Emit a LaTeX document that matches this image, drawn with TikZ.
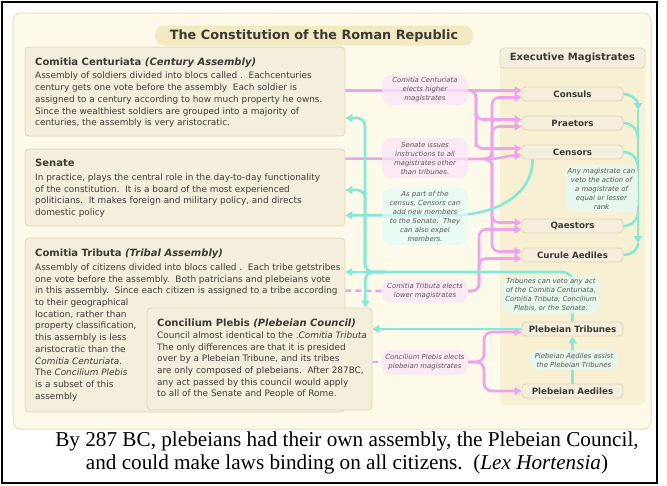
\documentclass[tikz,border=0pt]{standalone}
\usepackage{fontspec}
\setmainfont{Liberation Serif}
\newfontfamily\dvs{DejaVu Sans}
\usetikzlibrary{arrows.meta,positioning,calc}

\definecolor{cream}{HTML}{FDFAEA}
\definecolor{creamline}{HTML}{EAE0BE}
\definecolor{boxfill}{HTML}{F4EFDD}
\definecolor{boxline}{HTML}{E2D8B6}
\definecolor{pillfill}{HTML}{F3EAC2}
\definecolor{panelfill}{HTML}{F8F0D2}
\definecolor{electc}{HTML}{EFA2F0}
\definecolor{vetoc}{HTML}{86E8D8}
\definecolor{electbg}{HTML}{FBE4FB}
\definecolor{vetobg}{HTML}{E2FAF5}
\definecolor{ink}{HTML}{3C3A36}

\pgfdeclarelayer{back}
\pgfdeclarelayer{lines}
\pgfsetlayers{back,lines,main}

\tikzset{
x=1pt, y=-1pt, % pixel grid, y runs downwards
panelbox/.style={draw=boxline, fill=boxfill, rounded corners=4pt, line width=0.8pt},
pill/.style={fill=pillfill, rounded corners=9pt, minimum width=318pt, minimum height=20pt, text=ink, font=\dvs\bfseries\fontsize{12.8}{14}\selectfont},
magbox/.style={panelbox, minimum width=101pt, minimum height=14pt, inner sep=0pt, text=ink, font=\dvs\bfseries\fontsize{8.7}{10}\selectfont},
heading/.style={anchor=base west, inner sep=0pt, text=ink, font=\dvs\bfseries\fontsize{10}{12}\selectfont},
bodytext/.style={anchor=north west, inner sep=0pt, align=left, text=ink, font=\dvs\fontsize{8.9}{11.7}\selectfont},
note/.style={rounded corners=9pt, inner sep=2pt, align=center, text=ink!85, font=\dvs\itshape\fontsize{6.9}{9}\selectfont, fill opacity=0.75, text opacity=1},
electnote/.style={note, fill=electbg},
vetonote/.style={note, fill=vetobg},
elect line/.style={draw=electc, line width=2.6pt, -{Triangle[length=7pt,width=8pt]}},
veto line/.style={draw=vetoc, line width=2.6pt, -{Triangle[length=7pt,width=8pt]}},
dashes/.style={dash pattern=on 6pt off 4pt}
}

\begin{document}
\begin{tikzpicture}
\useasboundingbox (0,0) rectangle (667,485);
\draw[line width=2pt] (2,2) rectangle (657,483);
\begin{pgfonlayer}{back}
\draw[fill=cream, draw=creamline, line width=1pt, rounded corners=8pt] (13,13) rectangle (651,429);
\fill[panelfill, rounded corners=4pt] (500,62) rectangle (645,405);
\end{pgfonlayer}

% title
\node[pill] (title) at (314,35.5) {The Constitution of the Roman Republic};

% assemblies and the senate
\node[panelbox, minimum width=320pt, minimum height=89pt] (cc) at (185,91.5) {};
\node[heading] (cchead) at (35,65.5) {Comitia Centuriata \textit{(Century Assembly)}};
\node[bodytext] (cctext) at (35,72) {Assembly of soldiers divided into blocs called .\ \ Eachcenturies\\
century gets one vote before the assembly\ \ Each soldier is\\
assigned to a century according to how much property he owns.\\
Since the wealthiest soldiers are grouped into a majority of\\
centuries, the assembly is very aristocratic.};

\node[panelbox, minimum width=320pt, minimum height=77pt] (sen) at (185,187.5) {};
\node[heading] (senhead) at (35,166.5) {Senate};
\node[bodytext] (sentext) at (35,173.5) {In practice, plays the central role in the day-to-day functionality\\
of the constitution.\ \ It is a board of the most experienced\\
politicians.\ \ It makes foreign and military policy, and directs\\
domestic policy};

\node[panelbox, minimum width=320pt, minimum height=174pt] (ct) at (185,325) {};
\node[heading] (cthead) at (35,256.5) {Comitia Tributa \textit{(Tribal Assembly)}};
\node[bodytext] (cttext) at (35,263.5) {Assembly of citizens divided into blocs called .\ \ Each tribe getstribes\\
one vote before the assembly.\ \ Both patricians and plebeians vote\\
in this assembly.\ \ Since each citizen is assigned to a tribe according\\
to their geographical\\
location, rather than\\
property classification,\\
this assembly is less\\
aristocratic than the\\
\textit{Comitia Centuriata}.\\
The \textit{Concilium Plebis}\\
is a subset of this\\
assembly};

\node[panelbox, minimum width=225pt, minimum height=102pt] (cp) at (259.5,359) {};
\node[heading] (cphead) at (157,326.5) {Concilium Plebis \textit{(Plebeian Council)}};
\node[bodytext] (cptext) at (157,331.5) {Council almost identical to the .\textit{Comitia Tributa}\\
The only differences are that it is presided\\
over by a Plebeian Tribune, and its tribes\\
are only composed of plebeians.\ \ After 287BC,\\
any act passed by this council would apply\\
to all of the Senate and People of Rome.};

% executive magistrates
\node[panelbox, minimum width=145pt, minimum height=20pt, text=ink, font=\dvs\bfseries\fontsize{10}{12}\selectfont] (exec) at (572.5,58) {Executive Magistrates};
\node[magbox] (consuls) at (572.5,94) {Consuls};
\node[magbox] (praetors) at (572.5,123) {Praetors};
\node[magbox] (censors) at (572.5,152) {Censors};
\node[magbox] (qaestors) at (572.5,226) {Qaestors};
\node[magbox] (curule) at (572.5,255) {Curule Aediles};
\node[magbox] (ptrib) at (572.5,329) {Plebeian Tribunes};
\node[magbox] (paed) at (572.5,391) {Plebeian Aediles};

% notes on the arrows
\node[electnote, minimum width=86pt, minimum height=30pt] (cclab) at (425,90) {Comitia Centuriata\\elects higher\\magistrates};
\node[electnote, minimum width=86pt, minimum height=40pt] (senlab) at (425,158) {Senate issues\\instructions to all\\magistrates other\\than tribunes.};
\node[vetonote, minimum width=86pt, minimum height=57pt] (censlab) at (425,216.5) {As part of the\\census, Censors can\\add new members\\to the Senate.\ \ They\\can also expel\\members.};
\node[electnote, minimum width=86pt, minimum height=23pt] (ctlab) at (425,291) {Comitia Tributa elects\\lower magistrates};
\node[electnote, minimum width=86pt, minimum height=25pt] (cplab) at (425,362) {Concilium Plebis elects\\plebeian magistrates};
\node[vetonote, minimum width=73pt, minimum height=47pt] (vetolab) at (601.5,188.5) {Any magistrate can\\veto the action of\\a magistrate of\\equal or lesser\\rank};
\node[vetonote, minimum width=98pt, minimum height=36pt] (triblab) at (551,295) {Tribunes can veto any act\\of the Comitia Centuriata,\\Comitia Tributa, Concilium\\Plebis, or the Senate.};
\node[vetonote, minimum width=88pt, minimum height=20pt] (aedlab) at (574,360) {Plebeian Aediles assist\\the Plebeian Tribunes};

% caption
\node[align=center, font=\fontsize{21.2}{22.5}\selectfont] (caption) at (347,453) {By 287 BC, plebeians had their own assembly, the Plebeian Council,\\and could make laws binding on all citizens.\ \ (\textit{Lex Hortensia})};

\begin{pgfonlayer}{lines}
% elections (magenta)
\coordinate (ccj) at (462,90.5);
\draw[elect line] ($(cc.east)+(0,-1)$) -- ($(consuls.west)+(0,-3.5)$);
\draw[elect line, rounded corners=7pt] (ccj) -| (476,110) |- ($(praetors.west)+(0,-3.5)$);
\draw[elect line, rounded corners=7pt] (ccj) -| (476,140) |- ($(censors.west)+(0,-3.5)$);
\coordinate (senj) at (486,159);
\draw[elect line] ($(sen.north east)+(0,10)$) -- (senj) to[out=0,in=180] ($(censors.west)+(0,3.5)$);
\draw[elect line, rounded corners=7pt] (senj) -| (492,150) |- ($(consuls.west)+(0,3.5)$);
\draw[elect line, rounded corners=7pt] (senj) -| (492,150) |- ($(praetors.west)+(0,3.5)$);
\draw[elect line, rounded corners=7pt] (senj) -| (492,170) |- ($(qaestors.west)+(0,-3.5)$);
\draw[elect line, rounded corners=7pt] (senj) -| (492,170) |- ($(curule.west)+(0,-3.5)$);
\draw[elect line, -, dashes] ($(ct.north east)+(0,53)$) -- (ctlab.west);
\draw[elect line, rounded corners=7pt] (ctlab.east) -| (479,275) |- ($(curule.west)+(0,3.5)$);
\draw[elect line, rounded corners=7pt] (ctlab.east) -| (479,275) |- ($(qaestors.west)+(0,3.5)$);
\draw[elect line, -, dashes] ($(cp.east)+(0,3)$) -- (cplab.west);
\draw[elect line, rounded corners=8pt] (cplab.east) -| (484,350) |- ($(ptrib.west)+(0,3)$);
\draw[elect line, rounded corners=8pt] (cplab.east) -| (484,375) |- (paed.west);
% vetoes and other powers (cyan)
\draw[veto line] ($(censors.south west)+(11,0)$) to[out=-90,in=0] (455,215) -- ($(sen.south east)+(0,-11)$);
\coordinate (trj) at (385,272);
\draw[veto line, -, rounded corners=10pt] (ptrib.north) |- (trj);
\draw[veto line] (trj) -- (ct.east |- trj);
\draw[veto line, rounded corners=8pt] (trj) -| ($(cp.north east)+(-7,0)$);
\draw[veto line, rounded corners=8pt] (trj) -| (365,200) |- ($(sen.east)+(0,2.5)$);
\draw[veto line, rounded corners=8pt] (trj) -| (365,200) |- ($(cc.east)+(0,26.5)$);
\draw[veto line] (ptrib.west) -- (cp.east |- ptrib.west);
\draw[veto line] (paed.north) -- (ptrib.south);
\coordinate (vtop) at (638,110);
\coordinate (vbot) at (638,243);
\draw[veto line] (consuls.east) to[out=0,in=90] (vtop);
\draw[veto line] (vtop) -- (vbot);
\draw[veto line, -] (vbot) to[out=-90,in=0] (curule.east);
\draw[veto line, -] (praetors.east) to[out=0,in=90] (638,138);
\draw[veto line, -] (censors.east) to[out=0,in=90] (638,167);
\draw[veto line, -] (qaestors.east) to[out=0,in=-90] (638,212);
\end{pgfonlayer}
\end{tikzpicture}
\end{document}
